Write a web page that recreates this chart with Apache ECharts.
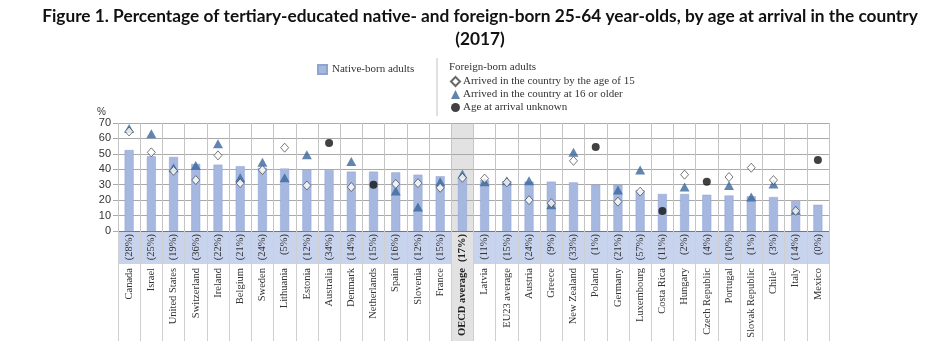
<!DOCTYPE html>
<html><head><meta charset="utf-8">
<script src="https://cdn.jsdelivr.net/npm/echarts@6/dist/echarts.min.js"></script>
<style>html,body{margin:0;padding:0;background:#fff}#c{width:940px;height:343px}</style>
</head><body><div id="c"></div>
<script>
// ---- data ----
const categories = ['Canada','Israel','United States','Switzerland','Ireland','Belgium','Sweden','Lithuania','Estonia','Australia','Denmark','Netherlands','Spain','Slovenia','France','OECD average','Latvia','EU23 average','Austria','Greece','New Zealand','Poland','Germany','Luxembourg','Costa Rica','Hungary','Czech Republic','Portugal','Slovak Republic','Chile\u00B9','Italy','Mexico'];
const foreignShare = [28,25,19,36,22,21,24,5,12,34,14,15,16,12,15,17,11,15,24,9,33,1,21,57,11,2,4,10,1,3,14,0];
const nativeBorn = [52.5,48.5,48,43.5,43,42,41,40.5,40,39.5,38.5,38.5,38,36.5,35.5,33.5,33,32.5,32,32,31.5,30,30,26.5,24,24,23.5,23,22.5,22,19.5,17];
const arrivedBy15 = [64.5,51,39,33,49,31,39.5,54,29.5,null,28.5,null,30.5,31,28,34.5,34,31.5,20,18,45.5,null,19,25.5,null,36.5,null,35,41,33,13,null];
const arrived16Plus = [66.5,63,41,42.5,56.5,34.5,44.5,34.5,49.5,null,45,null,26,15.5,32,37,32,32.5,32.5,17,51,null,26.5,39.5,null,28.5,null,29.5,22,30.5,13.5,null];
const arrivalUnknown = [null,null,null,null,null,null,null,null,null,57,null,30,null,null,null,null,null,null,null,null,null,54.5,null,null,13,null,32,null,null,null,null,46];
const highlightCategory = 'OECD average';

const serif = 'Liberation Serif';
const chart = echarts.init(document.getElementById('c'));
const shareLabels = categories.map((c, i) => '(' + foreignShare[i] + '%)');

chart.setOption({
  animation: false,
  title: {
    text: 'Figure 1. Percentage of tertiary-educated native- and foreign-born 25-64 year-olds, by age at arrival in the country\n(2017)',
    left: 475, top: 0, textAlign: 'center',
    textStyle: { fontFamily: 'Lato', fontWeight: 'bold', fontSize: 17.3, lineHeight: 23, color: '#111', align: 'center' }
  },
  legend: [
    { data: ['Native-born adults'], left: 312, top: 59, itemWidth: 9, itemHeight: 9, icon: 'rect',
      textStyle: { fontFamily: serif, fontSize: 11, color: '#333' }, selectedMode: false },
    { data: ['Arrived in the country by the age of 15', 'Arrived in the country at 16 or older', 'Age at arrival unknown'],
      orient: 'vertical', left: 445, top: 71, itemGap: 2, itemWidth: 9, itemHeight: 9,
      textStyle: { fontFamily: serif, fontSize: 11, color: '#333', padding: [0,0,0,-2] }, selectedMode: false }
  ],
  grid: { left: 118, right: 111, top: 123, bottom: 112, containLabel: false },
  xAxis: [
    { type: 'category', data: shareLabels, position: 'bottom',
      axisLine: { lineStyle: { color: '#777' } },
      axisTick: { show: true, length: 110, lineStyle: { color: '#cfcfcf' } },
      splitLine: { show: true, lineStyle: { color: '#c4c4c4' } },
      axisLabel: { rotate: 90, margin: 3, fontFamily: serif, fontSize: 10.5, color: '#333',
        formatter: (v, i) => categories[i] === highlightCategory ? '{b|' + v + '}' : v,
        rich: { b: { fontWeight: 'bold', fontFamily: serif, fontSize: 10.5, color: '#222' } } } },
    { type: 'category', data: categories, position: 'bottom', offset: 0,
      axisLine: { show: false }, axisTick: { show: false },
      axisLabel: { rotate: 90, margin: 37, fontFamily: serif, fontSize: 10.5, color: '#333',
        formatter: v => v === highlightCategory ? '{b|' + v + '}' : v,
        rich: { b: { fontWeight: 'bold', fontFamily: serif, fontSize: 10.5, color: '#222' } } } }
  ],
  yAxis: {
    type: 'value', min: 0, max: 70, interval: 10,
    name: '%', nameLocation: 'end', nameGap: 5,
    nameTextStyle: { fontFamily: 'Liberation Sans', fontSize: 10, color: '#333', align: 'right', padding: [0, 12, 0, 0] },
    axisLine: { show: false },
    axisTick: { show: true, length: 5, lineStyle: { color: '#aaa' } },
    axisLabel: { fontFamily: 'Liberation Sans', fontSize: 11, color: '#333', margin: 7 },
    splitLine: { lineStyle: { color: '#aaa' } }
  },
  series: [
    { name: 'Native-born adults', type: 'bar', data: nativeBorn, barWidth: 9,
      itemStyle: { color: '#a6b8e0', borderColor: '#8fa3d1', borderWidth: 0.5 }, z: 2 },
    { name: 'Arrived in the country at 16 or older', type: 'scatter', data: arrived16Plus,
      symbol: 'triangle', symbolSize: [10, 9], itemStyle: { color: '#3b679c' }, z: 3 },
    { name: 'Arrived in the country by the age of 15', type: 'scatter', data: arrivedBy15,
      symbol: 'diamond', symbolSize: [8, 9], itemStyle: { color: '#fff', borderColor: '#444', borderWidth: 0.9 }, z: 4 },
    { name: 'Age at arrival unknown', type: 'scatter', data: arrivalUnknown,
      symbol: 'circle', symbolSize: 8, itemStyle: { color: '#111' }, z: 4 }
  ]
});

// decorations computed from the library's scales
const px = c => chart.convertToPixel({ xAxisIndex: 1 }, c);
const step = px(categories[1]) - px(categories[0]);
const xLeft = px(categories[0]) - step / 2;
const xRight = px(categories[categories.length - 1]) + step / 2;
const yTop = chart.convertToPixel({ yAxisIndex: 0 }, 70);
const yZero = chart.convertToPixel({ yAxisIndex: 0 }, 0);
const xh = px(highlightCategory);
chart.setOption({
  graphic: [
    { type: 'rect', z: -10, silent: true, shape: { x: xLeft, y: yZero, width: xRight - xLeft, height: 33 }, style: { fill: '#c8d3ee' } },
    { type: 'rect', z: -9, silent: true, shape: { x: xh - step / 2, y: yTop, width: step, height: yZero + 110 - yTop }, style: { fill: '#e2e2e2' } },
    { type: 'line', silent: true, shape: { x1: 437, y1: 58, x2: 437, y2: 116 }, style: { stroke: '#c2c2c2', lineWidth: 1 } },
    { type: 'text', silent: true, left: 449, top: 62, style: { text: 'Foreign-born adults', font: '11px "Liberation Serif"', fill: '#333' } }
  ]
});
</script></body></html>
